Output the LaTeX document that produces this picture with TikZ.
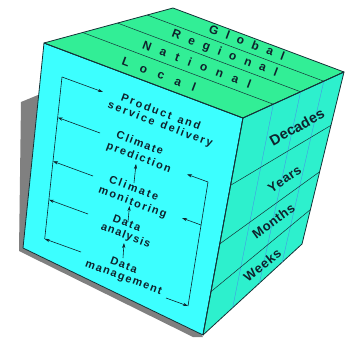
\documentclass[tikz,border=0pt]{standalone}
\usepackage{fontspec}
\setmainfont{Liberation Sans}
\usetikzlibrary{arrows.meta,calc,decorations.text}
\definecolor{frontcyan}{RGB}{60,255,255}
\definecolor{topgreen}{RGB}{50,238,150}
\definecolor{sidegreen}{RGB}{45,240,205}
\definecolor{edgedark}{RGB}{20,50,55}
\definecolor{gridblue}{RGB}{70,150,230}
\definecolor{shadowgray}{RGB}{128,128,128}
\definecolor{inkdark}{RGB}{15,35,45}
\newcommand{\facefnt}{\bfseries\fontsize{11}{12}\selectfont}
\newcommand{\topfnt}{\bfseries\fontsize{12}{12}\selectfont}
\newcommand{\sidefnt}{\bfseries\fontsize{13}{13}\selectfont}
\newcommand{\bigsidefnt}{\bfseries\fontsize{14.5}{14.5}\selectfont}

\begin{document}
\begin{tikzpicture}[x=1pt,y=-1pt,
  face/.style={draw=edgedark,line width=0.8pt,line join=round},
  grid/.style={draw=edgedark,line width=0.5pt},
  colline/.style={draw=gridblue,line width=0.4pt},
  flow/.style={draw=inkdark,line width=0.6pt,-{Stealth[length=5pt,width=3.2pt]}},
  link/.style={draw=inkdark,line width=0.6pt},
  % text laid along a baseline on a face
  ontext/.style 2 args={decorate,decoration={text along path,
    text align=fit to path,text color=inkdark,text={|#1|#2}}},
  facetext/.style={ontext={\facefnt}{#1}},
  toptext/.style={ontext={\topfnt}{#1}},
  sidetext/.style={ontext={\sidefnt}{#1}}]
  \useasboundingbox (0,0) rectangle (345,337);
  % cube corners
  \coordinate (fl) at (44,43);
  \coordinate (fr) at (243,118);
  \coordinate (bl) at (173,8);
  \coordinate (br) at (344,72);
  \coordinate (fbl) at (23,248);
  \coordinate (fb) at (203,335);
  \coordinate (rb) at (302,244);
  % shadow
  \fill[shadowgray] (38,95) -- (21,102) -- (19,251) -- (193,337) -- (203,337) -- cycle;
  % faces
  \path[face,fill=frontcyan] (fl) -- (fr) -- (fb) -- (fbl) -- cycle;
  \path[face,fill=topgreen] (fl) -- (bl) -- (br) -- (fr) -- cycle;
  \path[face,fill=sidegreen] (fr) -- (br) -- (rb) -- (fb) -- cycle;
  % subdivisions
  \foreach \f in {0.3,0.57,0.8}
    \draw[grid] ($(fl)!\f!(bl)$) -- ($(fr)!\f!(br)$);
  \foreach \f in {0.3,0.57,0.8}
    \draw[colline] ($(fr)!\f!(br)$) -- ($(fb)!\f!(rb)$);
  \foreach \f in {0.31,0.58,0.8}
    \draw[grid] ($(fr)!\f!(fb)$) -- ($(br)!\f!(rb)$);
  \path[face] (fl) -- (fr) -- (fb) (fr) -- (br);
  % top labels
  \path[toptext={Local}] (121,64.5) -- (194,92.1);
  \path[toptext={National}] (141.7,48) -- (249.3,88.6);
  \path[toptext={Regional}] (171.1,37) -- (275.9,76.6);
  \path[toptext={Global}] (208.1,32.2) -- (282.9,60.4);
  % side labels
  \path[ontext={\bigsidefnt}{Decades}] (273.2,146) -- (325.7,116.9);
  \path[sidetext={Years}] (271.7,193.2) -- (302.3,172.6);
  \path[sidetext={Months}] (256.3,239.2) -- (295.9,210.4);
  \path[sidetext={Weeks}] (248.1,282.5) -- (282.3,254.9);
  % front labels
  \path[facetext={Product and}] (120.3,100.7) -- (198.9,130.3);
  \path[facetext={service delivery}] (107.2,107.9) -- (211,147.1);
  \path[facetext={Climate}] (115.7,137.9) -- (161.5,155.1);
  \path[facetext={prediction}] (105.8,148.5) -- (169.4,172.5);
  \path[facetext={Climate}] (108.3,182.3) -- (156.9,200.7);
  \path[facetext={monitoring}] (97.9,192.8) -- (165.3,218.2);
  \path[facetext={Data}] (112,221.4) -- (139.2,231.6);
  \path[facetext={analysis}] (100.3,229.3) -- (148.9,247.7);
  \path[facetext={Data}] (109.5,263.6) -- (135.7,273.4);
  \path[facetext={management}] (84.7,266.2) -- (160.5,294.8);
  % flow points
  \coordinate (boxtl) at (62,77);
  \coordinate (intoprod) at (103,92);
  \coordinate (la) at (57.7,117.5);
  \coordinate (lb) at (53,161.3);
  \coordinate (lc) at (48.9,199.7);
  \coordinate (ld) at (44.7,238.9);
  \coordinate (sa) at (100,133);
  \coordinate (sb) at (93,176);
  \coordinate (sc) at (88,214);
  \coordinate (sd) at (81,252);
  \coordinate (rtop) at (208,182);
  \coordinate (rmid) at (201,225);
  \coordinate (boxbr) at (188,306);
  \coordinate (intopred) at (187,174.3);
  \coordinate (intomonit) at (182,218);
  \coordinate (mgmtend) at (166,298);
  \coordinate (va) at (123,258);
  \coordinate (vb) at (124,243);
  \coordinate (vc) at (128,222);
  \coordinate (vd) at (129.5,206);
  \coordinate (ve) at (134,183);
  \coordinate (vf) at (136,164);
  % arrows
  \draw[link] (ld) -- (boxtl);
  \draw[flow] (boxtl) -- (intoprod);
  \draw[flow] (sa) -- (la);
  \draw[flow] (sb) -- (lb);
  \draw[flow] (sc) -- (lc);
  \draw[flow] (sd) -- (ld);
  \draw[flow] (mgmtend) -- (boxbr);
  \draw[link] (boxbr) -- (rtop);
  \draw[flow] (rtop) -- (intopred);
  \draw[flow] (rmid) -- (intomonit);
  \draw[flow] (va) -- (vb);
  \draw[flow] (vc) -- (vd);
  \draw[flow] (ve) -- (vf);
\end{tikzpicture}
\end{document}
